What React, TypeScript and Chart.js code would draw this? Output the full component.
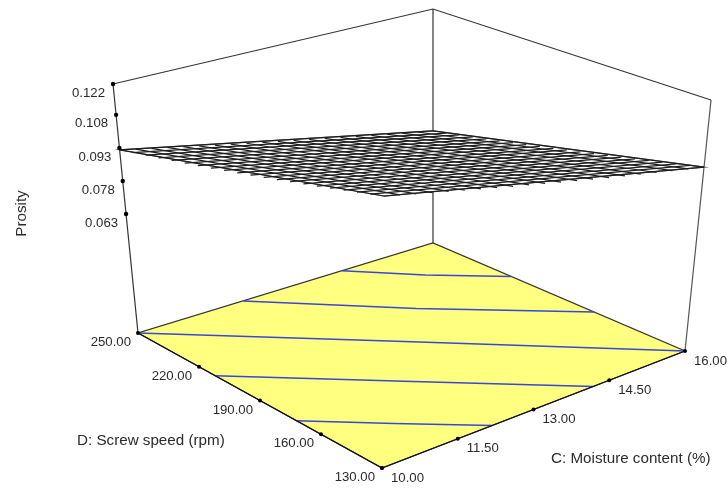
import React, { useEffect, useRef } from "react";
import { Chart, registerables } from "chart.js";

Chart.register(...registerables);

// Factor levels
const moistureTicks = [10, 11.5, 13, 14.5, 16];
const speedTicks = [130, 160, 190, 220, 250];
const porosityTicks = [0.063, 0.078, 0.093, 0.108, 0.122];
const porosityTickLabels = ["0.063", "0.078", "0.093", "0.108", "0.122"];
const zFloor = 0.009;
const zCeil = 0.122;

// Surface mesh levels
const meshMoisture = [10, 10.3, 10.6, 10.9, 11.2, 11.5, 11.8, 12.1, 12.4, 12.7, 13, 13.3, 13.6, 13.9, 14.2, 14.5, 14.8, 15.1, 15.4, 15.7, 16];
const meshSpeed = [130, 136, 142, 148, 154, 160, 166, 172, 178, 184, 190, 196, 202, 208, 214, 220, 226, 232, 238, 244, 250];

// Porosity along the four edges of the response surface
const porosityAtC10 = [0.1139, 0.1128, 0.1117, 0.1106, 0.1095, 0.1084, 0.1074, 0.1063, 0.1052, 0.1041, 0.103, 0.1019, 0.1008, 0.0997, 0.0986, 0.0975, 0.0965, 0.0954, 0.0943, 0.0932, 0.0921];
const porosityAtC16 = [0.0918, 0.0904, 0.0889, 0.0875, 0.0861, 0.0846, 0.0832, 0.0818, 0.0803, 0.0789, 0.0775, 0.076, 0.0746, 0.0731, 0.0717, 0.0703, 0.0688, 0.0674, 0.066, 0.0645, 0.0631];
const porosityAtD130 = [0.1139, 0.1128, 0.1117, 0.1106, 0.1095, 0.1084, 0.1073, 0.1062, 0.1051, 0.104, 0.1029, 0.1017, 0.1006, 0.0995, 0.0984, 0.0973, 0.0962, 0.0951, 0.094, 0.0929, 0.0918];
const porosityAtD250 = [0.0921, 0.0907, 0.0892, 0.0878, 0.0863, 0.0849, 0.0834, 0.082, 0.0805, 0.0791, 0.0776, 0.0762, 0.0747, 0.0733, 0.0718, 0.0704, 0.0689, 0.0675, 0.066, 0.0646, 0.0631];

// Contour lines on the floor: [C, D] vertices
const contourLines = [
  [[10, 172], [11.1, 151.2], [12.18, 130]],
  [[10, 212], [12.17, 172.5], [14.18, 130]],
  [[10, 250], [13.2, 193.6], [16, 130]],
  [[12.14, 250], [14.07, 212.4], [16, 173.2]],
  [[14.15, 250], [15.04, 231.2], [16, 212.8]],
];

// View of the box on the page
const floorCorners = { front: [382, 468], right: [685, 351], back: [433, 243], left: [138, 333] };
const ceilCorners = { front: [384, 175], right: [711, 100], back: [433, 9], left: [113, 84] };

const bilinear = (k: any, u: number, v: number) =>
  [0, 1].map(
    (i) =>
      k.front[i] * (1 - u) * (1 - v) + k.right[i] * u * (1 - v) + k.back[i] * u * v + k.left[i] * (1 - u) * v
  );

const project = (c: number, d: number, z: number) => {
  const u = (c - 10) / 6;
  const v = (d - 130) / 120;
  const t = (z - zFloor) / (zCeil - zFloor);
  const a = bilinear(floorCorners, u, v);
  const b = bilinear(ceilCorners, u, v);
  return { x: a[0] + (b[0] - a[0]) * t, y: a[1] + (b[1] - a[1]) * t };
};

const line = (data: any[], color: string, width = 1, extra: any = {}) => ({
  data,
  showLine: true,
  borderColor: color,
  borderWidth: width,
  pointRadius: 0,
  fill: false,
  tension: 0,
  ...extra,
});

const dots = (data: any[], radius: number) => ({
  data,
  showLine: false,
  pointRadius: radius,
  pointBackgroundColor: "#000000",
  pointBorderWidth: 0,
});

const buildDatasets = () => {
  const list: any[] = [];
  const F = (c: number, d: number) => project(c, d, zFloor);
  const T = (c: number, d: number) => project(c, d, zCeil);

  // box walls
  list.push(line([T(10, 250), T(16, 250), T(16, 130)], "#333333", 1.2));
  list.push(line([T(10, 250), F(10, 250)], "#333333", 1.2));
  list.push(line([T(16, 250), F(16, 250)], "#333333", 1.2));
  list.push(line([T(16, 130), F(16, 130)], "#555555", 1.2));

  // floor
  list.push(
    line([F(10, 130), F(16, 130), F(16, 250), F(10, 250), F(10, 130)], "#333333", 1.2, {
      fill: "shape",
      backgroundColor: "#FFFF80",
    })
  );
  contourLines.forEach((c) => {
    list.push(line(c.map((p) => F(p[0], p[1])), "#3A46D8", 1.5));
  });
  list.push(line([F(10, 250), F(10, 130), F(16, 130)], "#111111", 1.3));

  // surface
  list.push(
    line(
      [
        project(10, 130, porosityAtC10[0]),
        project(16, 130, porosityAtC16[0]),
        project(16, 250, porosityAtC16[20]),
        project(10, 250, porosityAtC10[20]),
        project(10, 130, porosityAtC10[0]),
      ],
      "#555555",
      1.2,
      { fill: "shape", backgroundColor: "#FFFFFF" }
    )
  );
  meshMoisture.forEach((c, i) => {
    list.push(line([project(c, 130, porosityAtD130[i]), project(c, 250, porosityAtD250[i])], "#1E1E1E", 1.25));
  });
  meshSpeed.forEach((d, j) => {
    list.push(line([project(10, d, porosityAtC10[j]), project(16, d, porosityAtC16[j])], "#1E1E1E", 1.25));
  });

  // ticks
  list.push(dots(moistureTicks.map((c) => F(c, 130)), 2));
  list.push(dots(speedTicks.map((d) => F(10, d)), 2));
  list.push(dots(porosityTicks.map((z) => project(10, 250, z)), 2.2));

  return list.map((ds, i) => ({ ...ds, order: list.length - i, clip: false }));
};

const textPlugin = {
  id: "axisText",
  afterDatasetsDraw(chart: any) {
    const { ctx, scales } = chart;
    const X = (p: any) => scales.x.getPixelForValue(p.x);
    const Y = (p: any) => scales.y.getPixelForValue(p.y);
    ctx.save();
    ctx.font = "13.2px 'Liberation Sans', Arial, sans-serif";
    ctx.fillStyle = "#2b2b2b";
    ctx.textBaseline = "middle";

    ctx.textAlign = "right";
    porosityTicks.forEach((z, i) => {
      const p = project(10, 250, z);
      ctx.fillText(porosityTickLabels[i], X(p) - 8, Y(p) + 9);
    });
    speedTicks.forEach((d) => {
      const p = project(10, d, zFloor);
      ctx.fillText(d.toFixed(2), X(p) - 7, Y(p) + 9.5);
    });

    ctx.textAlign = "left";
    moistureTicks.forEach((c) => {
      const p = project(c, 130, zFloor);
      ctx.fillText(c.toFixed(2), X(p) + 9, Y(p) + 10);
    });

    ctx.font = "15.2px 'Liberation Sans', Arial, sans-serif";
    ctx.fillText("D: Screw speed (rpm)", 77, 441);
    ctx.fillText("C: Moisture content (%)", 551, 459);

    ctx.translate(22, 213.5);
    ctx.rotate(-Math.PI / 2);
    ctx.textAlign = "center";
    ctx.fillText("Prosity", 0, 0);
    ctx.restore();
  },
};

export default function App() {
  const ref = useRef<HTMLCanvasElement>(null);
  useEffect(() => {
    if (!ref.current) return;
    const chart = new Chart(ref.current, {
      type: "scatter",
      data: { datasets: buildDatasets() },
      options: {
        animation: false,
        responsive: false,
        devicePixelRatio: 1,
        layout: { padding: 0, autoPadding: false },
        plugins: { legend: { display: false }, tooltip: { enabled: false } },
        scales: {
          x: { type: "linear", min: 0, max: 728, display: false },
          y: { type: "linear", min: 0, max: 488, reverse: true, display: false },
        },
      },
      plugins: [textPlugin],
    } as any);
    return () => chart.destroy();
  }, []);
  return (
    <div style={{ position: "fixed", left: 0, top: 0, width: 728, height: 488, background: "#fff" }}>
      <canvas ref={ref} width={728} height={488} style={{ display: "block" }} />
    </div>
  );
}
